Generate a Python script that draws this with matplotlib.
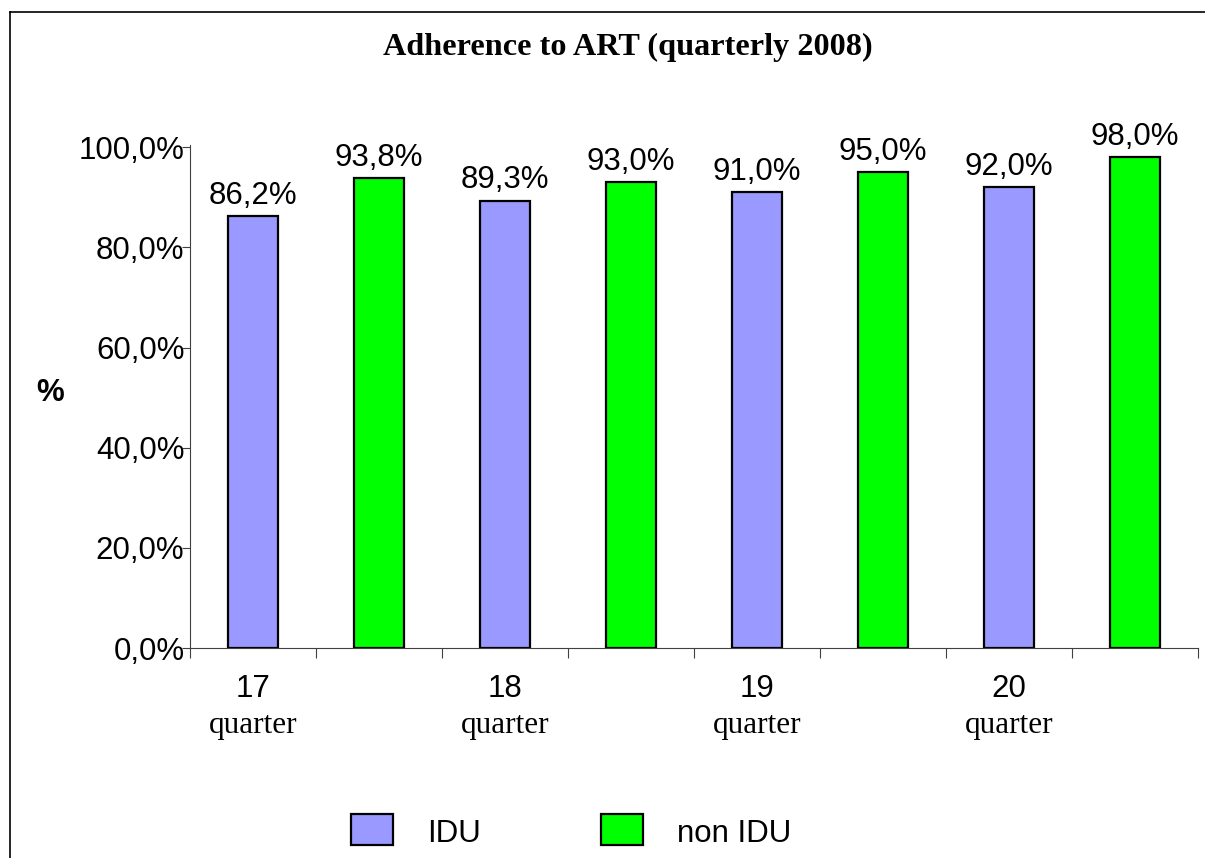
import matplotlib
matplotlib.use("Agg")
import matplotlib.pyplot as plt
from matplotlib.lines import Line2D

quarters = ["17", "18", "19", "20"]
idu = [86.2, 89.3, 91.0, 92.0]
non_idu = [93.8, 93.0, 95.0, 98.0]
series_names = ["IDU", "non IDU"]
yticks = [0, 20, 40, 60, 80, 100]

W, H = 1205, 858
fig = plt.figure(figsize=(W / 100, H / 100), dpi=100)
ax = fig.add_axes([190 / W, 1 - 648 / H, (1198 - 190) / W, (648 - 145.3) / H])

sans = "Liberation Sans"
serif = "Liberation Serif"
fs = 22.5

c_idu = "#9999FF"
c_non = "#00FF00"

pos_idu = [2 * i + 0.5 for i in range(len(quarters))]
pos_non = [2 * i + 1.5 for i in range(len(quarters))]
b1 = ax.bar(pos_idu, idu, width=0.4, color=c_idu, edgecolor="black", linewidth=1.6)
b2 = ax.bar(pos_non, non_idu, width=0.4, color=c_non, edgecolor="black", linewidth=1.6)

for bars, vals in ((b1, idu), (b2, non_idu)):
    for rect, v in zip(bars, vals):
        ax.annotate(f"{v:.1f}%".replace(".", ","),
                    (rect.get_x() + rect.get_width() / 2, v),
                    xytext=(0, 4), textcoords="offset points",
                    ha="center", va="bottom", fontsize=fs, family=sans)

ax.set_xlim(0, 2 * len(quarters))
ax.set_ylim(0, 100.4)
ax.set_yticks(yticks)
ax.set_yticklabels([f"{t:.1f}%".replace(".", ",") for t in yticks], fontsize=fs, family=sans)
ax.set_xticks(range(0, 2 * len(quarters) + 1))
ax.set_xticklabels([])
ax.tick_params(axis="y", direction="out", length=6, width=0.8, color="#404040", pad=-2)
ax.tick_params(axis="x", direction="out", length=7, width=0.8, color="#404040")
for s in ["top", "right"]:
    ax.spines[s].set_visible(False)
for s in ["left", "bottom"]:
    ax.spines[s].set_color("#404040")
    ax.spines[s].set_linewidth(0.8)

for p, q in zip(pos_idu, quarters):
    x_fig = (190 + p * 126) / W
    fig.text(x_fig, 1 - 689 / H, q, ha="center", va="center", fontsize=fs, family=sans)
    fig.text(x_fig, 1 - 725 / H, "quarter", ha="center", va="center", fontsize=fs, family=serif)

fig.text(628 / W, 1 - 47 / H, "Adherence to ART (quarterly 2008)", ha="center", va="center",
         fontsize=23.2, family=serif, fontweight="bold")
fig.text(50 / W, 1 - 393 / H, "%", ha="center", va="center", fontsize=fs, family=sans,
         fontweight="bold")

# outer frame (left and top)
fig.add_artist(Line2D([10 / W, 10 / W], [0, 1 - 12 / H], color="black", lw=1.2,
                      transform=fig.transFigure))
fig.add_artist(Line2D([10 / W, 1], [1 - 12 / H, 1 - 12 / H], color="black", lw=1.2,
                      transform=fig.transFigure))

# legend
for x0, col, name in ((351, c_idu, series_names[0]), (601, c_non, series_names[1])):
    fig.add_artist(plt.Rectangle((x0 / W, 1 - 845 / H), 42 / W, 31 / H, transform=fig.transFigure,
                                 facecolor=col, edgecolor="black", lw=1.6))
    fig.text((x0 + 76) / W, 1 - 834 / H, name, ha="left", va="center", fontsize=fs, family=sans)

fig.savefig("out.png", dpi=100)
